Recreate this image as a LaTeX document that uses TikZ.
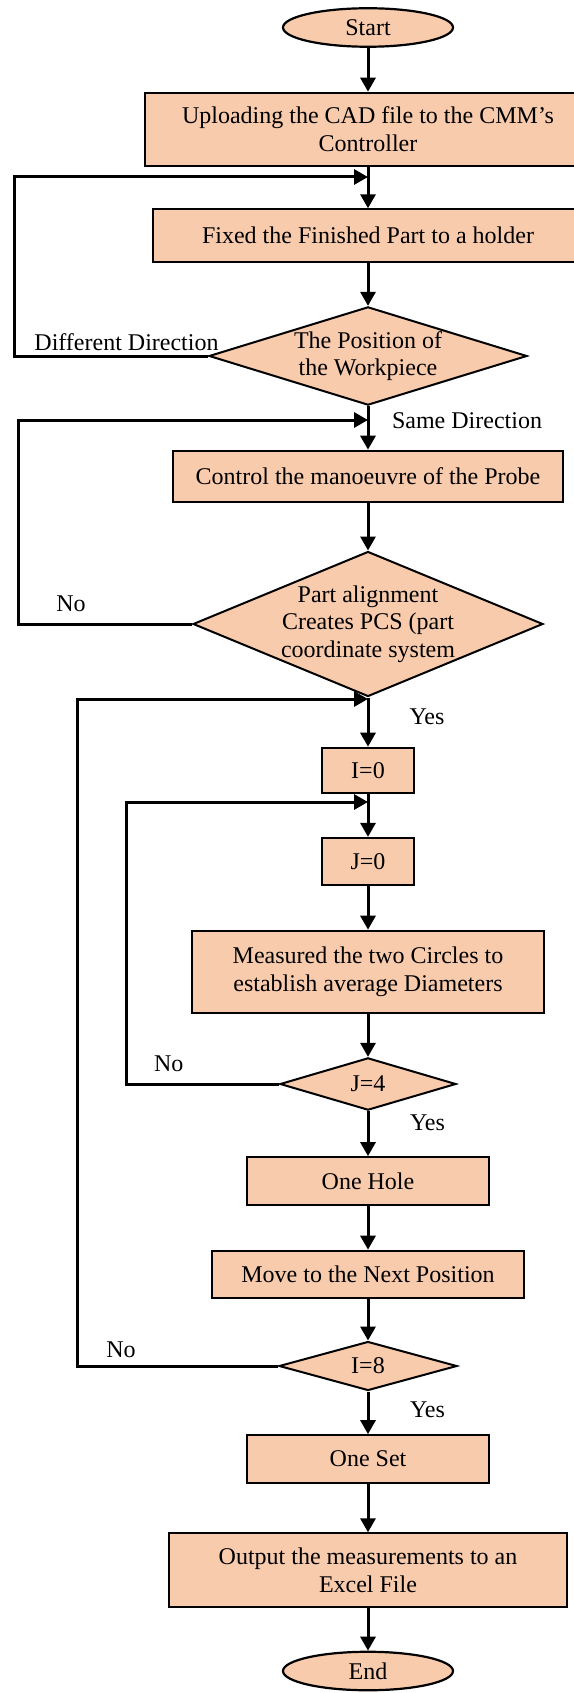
\documentclass[tikz,border=0pt]{standalone}
\usepackage{fontspec}
\setmainfont{Liberation Serif}
\usetikzlibrary{shapes.geometric,arrows.meta}
\definecolor{peach}{RGB}{248,203,173}

\begin{document}
\begin{tikzpicture}[x=1pt,y=-1pt,
    >={Triangle[length=14pt,width=15pt]},
    every node/.style={font=\fontsize{24}{27.6}\selectfont},
    box/.style={draw,line width=2pt,fill=peach,inner sep=0pt,align=center},
    decide/.style={draw,line width=2pt,fill=peach,diamond,inner sep=-6pt,align=center},
    terminal/.style={draw,line width=2.2pt,fill=peach,ellipse,inner sep=0pt,
                     minimum width=170pt,minimum height=38.5pt},
    lbl/.style={inner sep=0pt},
    flow/.style={->,line width=3pt}]
  \useasboundingbox (0,0) rectangle (573,1693);
  %
  \node[terminal] (start) at (368,27.5) {Start};
  \node[box,minimum width=446pt,minimum height=73pt] (upload) at (368,129.2)
       {Uploading the CAD file to the CMM’s\\Controller};
  \node[box,minimum width=430pt,minimum height=52.4pt] (fixed) at (368,235.5)
       {Fixed the Finished Part to a holder};
  \node[decide,aspect=3.24,minimum width=318pt,minimum height=98.3pt] (pos) at (368,356)
       {The Position of\\the Workpiece};
  \node[box,minimum width=390pt,minimum height=51pt] (probe) at (368,476.2)
       {Control the manoeuvre of the Probe};
  \node[decide,aspect=2.41,minimum width=350pt,minimum height=145pt] (align) at (368,624)
       {Part alignment\\Creates PCS (part\\coordinate system};
  \node[box,minimum width=92pt,minimum height=45.6pt] (izero) at (368,770.5) {I=0};
  \node[box,minimum width=92pt,minimum height=47pt] (jzero) at (368,861.4) {J=0};
  \node[box,minimum width=352pt,minimum height=82pt] (measure) at (368,971.7)
       {Measured the two Circles to\\establish average Diameters};
  \node[decide,aspect=3.37,minimum width=176pt,minimum height=52.3pt] (jfour) at (368,1084) {J=4};
  \node[box,minimum width=242pt,minimum height=47.7pt] (hole) at (368,1181) {One Hole};
  \node[box,minimum width=312pt,minimum height=47.6pt] (move) at (368,1274.5)
       {Move to the Next Position};
  \node[decide,aspect=3.63,minimum width=178pt,minimum height=49pt] (ieight) at (368,1366) {I=8};
  \node[box,minimum width=242.5pt,minimum height=47.7pt] (oneset) at (368,1459) {One Set};
  \node[box,minimum width=398pt,minimum height=74pt] (output) at (368,1570.3)
       {Output the measurements to an\\Excel File};
  \node[terminal] (finish) at (368,1671) {End};
  %
  \foreach \a/\b in {start/upload,upload/fixed,fixed/pos,pos/probe,probe/align,
                     align/izero,izero/jzero,jzero/measure,measure/jfour,jfour/hole,
                     hole/move,move/ieight,ieight/oneset,oneset/output,output/finish}
           {\draw[flow] (\a) -- (\b);}
  %
  % loops back to the main column
  \coordinate (m1) at (368,177);
  \coordinate (m2) at (368,420);
  \coordinate (m3) at (368,699);
  \coordinate (m4) at (368,802);
  \draw[flow] (pos.west) -- ++(-194,0) |- (m1);
  \draw[flow] (align.west) -- ++(-174,0) |- (m2);
  \draw[flow] (ieight.west) -- ++(-201,0) |- (m3);
  \draw[flow] (jfour.west) -- ++(-153,0) |- (m4);
  %
  \node[lbl] (ddir) at (126.5,341.7) {Different Direction};
  \node[lbl] (sdir) at (467,421) {Same Direction};
  \node[lbl] (no1) at (71,604) {No};
  \node[lbl] (yes1) at (427,717) {Yes};
  \node[lbl] (no2) at (168.7,1064) {No};
  \node[lbl] (yes2) at (427.5,1123) {Yes};
  \node[lbl] (no3) at (121,1350) {No};
  \node[lbl] (yes3) at (427.5,1410) {Yes};
\end{tikzpicture}
\end{document}
